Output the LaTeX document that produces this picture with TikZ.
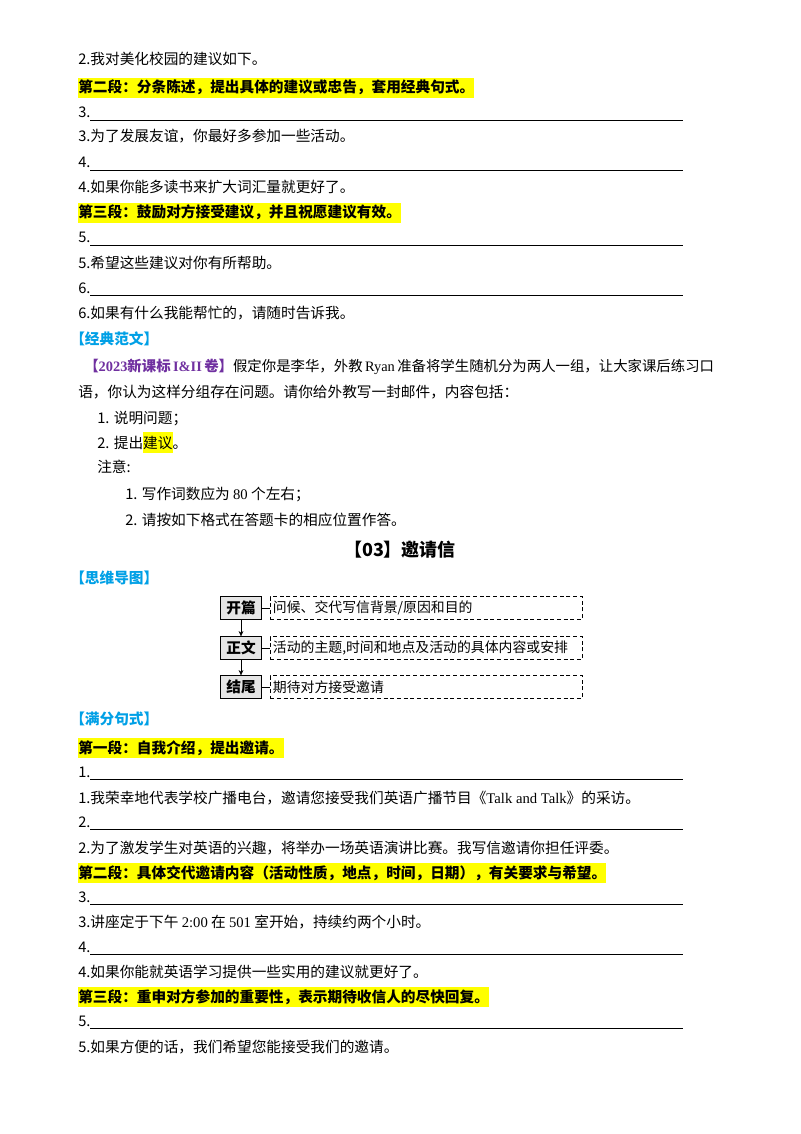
\documentclass[tikz,border=0pt]{standalone}
\usepackage{fontspec}
\setmainfont{Liberation Serif}
\newfontfamily\cjk{Noto Sans CJK SC}
\newfontfamily\lat{Liberation Serif}
\usetikzlibrary{arrows.meta}
\definecolor{hl}{RGB}{255,255,0}
\definecolor{cyanh}{RGB}{0,160,230}
\definecolor{purp}{RGB}{112,48,160}
\begin{document}
\begin{tikzpicture}[x=0.75pt,y=-0.75pt,
  t/.style={anchor=base west,inner sep=0pt,font=\cjk\fontsize{11}{13}\selectfont},
  hh/.style={t,fill=hl,inner ysep=2pt,font=\cjk\bfseries\fontsize{11}{13}\selectfont},
  blank/.style={t},
  sbox/.style={draw,fill=gray!20,inner sep=0pt,font=\cjk\bfseries\fontsize{11}{13}\selectfont,minimum height=17pt,minimum width=31pt},
  dbox/.style={draw,densely dashed,anchor=west,inner xsep=2pt,inner ysep=0pt,minimum height=17pt,minimum width=234pt,font=\cjk\fontsize{10.4}{13}\selectfont,text width=230pt,align=left}]
\useasboundingbox[fill=white] (0,0) rectangle (800,1134);
\newcommand\blankline[3]{\node[blank] (#1) at (78,#2) {#3};
  \draw[line width=0.5pt] (90,#2+2) -- (683,#2+2);}
\node[t] (l1) at (78,65) {2.我对美化校园的建议如下。};
\node[hh] (h1) at (78,93) {第二段：分条陈述，提出具体的建议或忠告，套用经典句式。};
\blankline{b3}{118}{3.}
\node[t] (l3) at (78,142) {3.为了发展友谊，你最好多参加一些活动。};
\blankline{b4}{168}{4.}
\node[t] (l4) at (78,193) {4.如果你能多读书来扩大词汇量就更好了。};
\node[hh] (h2) at (78,218) {第三段：鼓励对方接受建议，并且祝愿建议有效。};
\blankline{b5}{243}{5.}
\node[t] (l5) at (78,268) {5.希望这些建议对你有所帮助。};
\blankline{b6}{293}{6.}
\node[t] (l6) at (78,318) {6.如果有什么我能帮忙的，请随时告诉我。};
\node[t,text=cyanh,font=\cjk\bfseries\fontsize{11}{13}\selectfont] (jd) at (70,344) {【经典范文】};
\node[t,font=\cjk\fontsize{10.8}{13}\selectfont] (p1) at (84,371) {{\bfseries\color{purp}【{\lat 2023}新课标{\lat\,I\&II\,}卷】}假定你是李华，外教{\lat\,Ryan\,}准备将学生随机分为两人一组，让大家课后练习口};
\node[t] (p2) at (78,397) {语，你认为这样分组存在问题。请你给外教写一封邮件，内容包括：};
\node[t] (p3) at (97,423) {1. 说明问题；};
\node[t] (p4) at (97,448) {2. 提出\colorbox{hl}{\kern-3pt 建议\kern-3pt}。};
\node[t] (p5) at (97,472) {注意:};
\node[t] (p6) at (125,499) {1. 写作词数应为 {\lat 80} 个左右；};
\node[t] (p7) at (125,525) {2. 请按如下格式在答题卡的相应位置作答。};
\node[anchor=base,inner sep=0pt,font=\cjk\bfseries\fontsize{13.5}{15}\selectfont] (tt) at (400,556) {【03】邀请信};
\node[t,text=cyanh,font=\cjk\bfseries\fontsize{11}{13}\selectfont] (sw) at (70,583) {【思维导图】};
\node[sbox] (s1) at (241,608) {开篇};
\node[sbox] (s2) at (241,648) {正文};
\node[sbox] (s3) at (241,687) {结尾};
\node[dbox] (d1) at (270,608) {问候、交代写信背景/原因和目的};
\node[dbox] (d2) at (270,648) {活动的主题,时间和地点及活动的具体内容或安排};
\node[dbox] (d3) at (270,687) {期待对方接受邀请};
\foreach \i in {1,2,3}{\draw[line width=0.4pt] (s\i.east) -- (d\i.west);}
\draw[-{Stealth[length=4pt,width=3.5pt]},line width=0.4pt] (s1) -- (s2);
\draw[-{Stealth[length=4pt,width=3.5pt]},line width=0.4pt] (s2) -- (s3);
\node[t,text=cyanh,font=\cjk\bfseries\fontsize{11}{13}\selectfont] (mf) at (70,724) {【满分句式】};
\node[hh] (h3) at (78,753) {第一段：自我介绍，提出邀请。};
\blankline{c1}{777}{1.}
\node[t] (m1) at (78,803) {1.我荣幸地代表学校广播电台，邀请您接受我们英语广播节目《{\lat Talk and Talk}》的采访。};
\blankline{c2}{827}{2.}
\node[t] (m2) at (78,853) {2.为了激发学生对英语的兴趣，将举办一场英语演讲比赛。我写信邀请你担任评委。};
\node[hh] (h4) at (78,878) {第二段：具体交代邀请内容（活动性质，地点，时间，日期），有关要求与希望。};
\blankline{c3}{902}{3.}
\node[t] (m3) at (78,927) {3.讲座定于下午 {\lat 2:00} 在 {\lat 501} 室开始，持续约两个小时。};
\blankline{c4}{952}{4.}
\node[t] (m4) at (78,977) {4.如果你能就英语学习提供一些实用的建议就更好了。};
\node[hh] (h5) at (78,1002) {第三段：重申对方参加的重要性，表示期待收信人的尽快回复。};
\blankline{c5}{1026}{5.}
\node[t] (m5) at (78,1052) {5.如果方便的话，我们希望您能接受我们的邀请。};
\end{tikzpicture}
\end{document}
